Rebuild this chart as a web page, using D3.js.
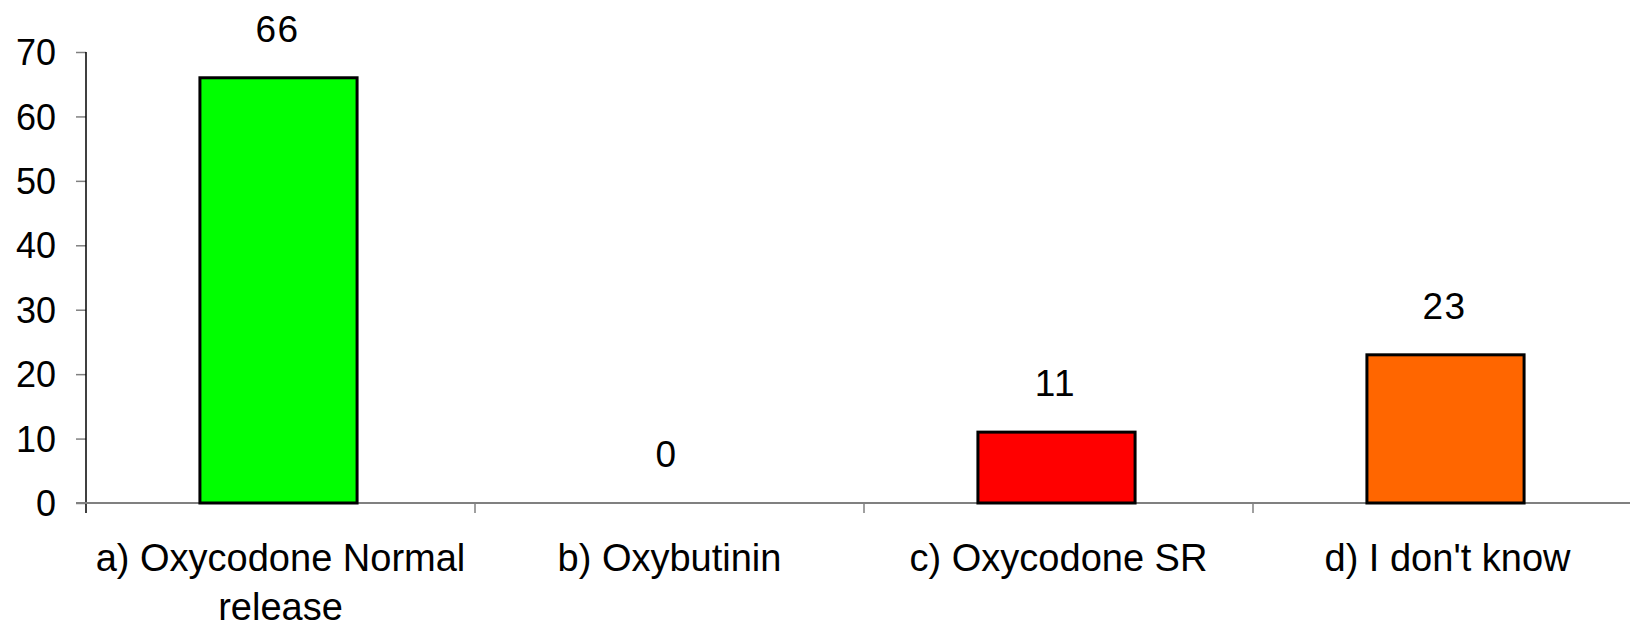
<!DOCTYPE html>
<html>
<head>
<meta charset="utf-8">
<script src="https://cdn.jsdelivr.net/npm/d3@7"></script>
<style>
  body { margin: 0; background: #fff; }
  svg { display: block; font-family: "Liberation Sans", Arial, sans-serif; }
</style>
</head>
<body>
<script>
// chart data
const categories = ["a) Oxycodone Normal release", "b) Oxybutinin", "c) Oxycodone SR", "d) I don't know"];
const values = [66, 0, 11, 23];
const barColors = ["#00ff00", "#ff0000", "#ff0000", "#ff6600"];
const yTicks = [0, 10, 20, 30, 40, 50, 60, 70];

const w = 1630, h = 628;
const mLeft = 86, mRight = 1642, mTop = 52, mBottom = 503;

const svg = d3.select("body").append("svg")
  .attr("width", w)
  .attr("height", h);

const x = d3.scaleBand().domain(categories).range([mLeft, mRight]).paddingInner(0).paddingOuter(0);
const y = d3.scaleLinear().domain([0, 70]).range([mBottom, mTop]);
const barW = x.bandwidth() * 0.404;

// y axis
const yAxis = svg.append("g")
  .attr("transform", `translate(${mLeft},0)`)
  .call(d3.axisLeft(y).tickValues(yTicks).tickSize(10).tickPadding(20).tickFormat(d3.format("d")));
yAxis.select(".domain").remove();
yAxis.selectAll(".tick line").attr("stroke", "#808080").attr("stroke-width", 1.5);
yAxis.selectAll("text").attr("font-size", 36).attr("fill", "#000").attr("dy", "0.35em");
svg.append("line")
  .attr("x1", mLeft).attr("x2", mLeft)
  .attr("y1", mTop).attr("y2", mBottom + 10)
  .attr("stroke", "#000").attr("stroke-width", 1.5);

// x axis
svg.append("line")
  .attr("x1", mLeft - 10).attr("x2", w)
  .attr("y1", mBottom).attr("y2", mBottom)
  .attr("stroke", "#808080").attr("stroke-width", 2);
svg.selectAll(".xtick")
  .data(categories.slice(1))
  .enter().append("line")
  .attr("class", "xtick")
  .attr("x1", d => x(d)).attr("x2", d => x(d))
  .attr("y1", mBottom).attr("y2", mBottom + 10)
  .attr("stroke", "#808080").attr("stroke-width", 1.5);

// bars
svg.selectAll(".bar")
  .data(values)
  .enter().append("rect")
  .attr("class", "bar")
  .attr("x", (d, i) => x(categories[i]) + x.bandwidth() / 2 - barW / 2 - 2)
  .attr("y", d => y(d))
  .attr("width", barW)
  .attr("height", d => y(0) - y(d))
  .attr("fill", (d, i) => barColors[i])
  .attr("stroke", "#000")
  .attr("stroke-width", d => d > 0 ? 3 : 0);

// value labels
svg.selectAll(".val")
  .data(values)
  .enter().append("text")
  .attr("class", "val")
  .attr("x", (d, i) => x(categories[i]) + x.bandwidth() / 2 - 3)
  .attr("y", d => y(d) - 36)
  .attr("text-anchor", "middle")
  .attr("font-size", 37)
  .attr("letter-spacing", 1.5)
  .text(d => d);

// category labels, wrapped to band width
const labels = svg.selectAll(".cat")
  .data(categories)
  .enter().append("text")
  .attr("class", "cat")
  .attr("x", d => x(d) + x.bandwidth() / 2)
  .attr("y", 571)
  .attr("text-anchor", "middle")
  .attr("font-size", 38);

labels.each(function(d) {
  const t = d3.select(this);
  const cx = x(d) + x.bandwidth() / 2;
  const words = d.split(" ");
  let line = [];
  let tspan = t.append("tspan").attr("x", cx).attr("dy", 0);
  words.forEach(word => {
    line.push(word);
    tspan.text(line.join(" "));
    if (tspan.node().getComputedTextLength() > x.bandwidth() - 10 && line.length > 1) {
      line.pop();
      tspan.text(line.join(" "));
      line = [word];
      tspan = t.append("tspan").attr("x", cx).attr("dy", 49).text(word);
    }
  });
});
</script>
</body>
</html>
